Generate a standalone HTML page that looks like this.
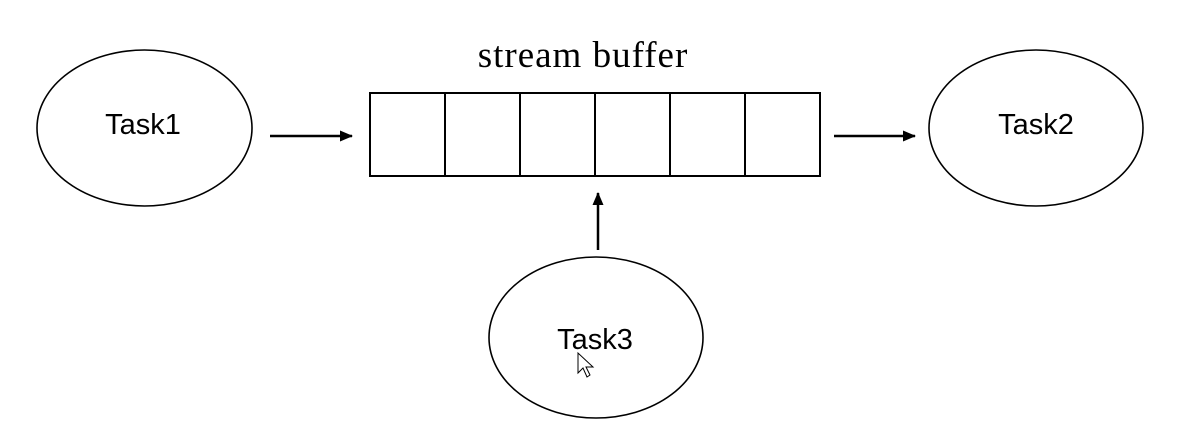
<!DOCTYPE html>
<html><head><style>html,body{margin:0;padding:0;background:#fff}</style></head>
<body>
<svg width="1193" height="421" xmlns="http://www.w3.org/2000/svg">
<defs><marker id="a" markerWidth="13" markerHeight="11" refX="12" refY="5.5" orient="auto" markerUnits="userSpaceOnUse"><path d="M0,0 L13,5.5 L0,11 Z" fill="#000"/></marker></defs>
<g fill="none" stroke="#000" stroke-width="1.6">
<ellipse cx="144.5" cy="128" rx="107.5" ry="78"/>
<ellipse cx="1036" cy="128" rx="107" ry="78"/>
<ellipse cx="596" cy="337.5" rx="107" ry="80.5"/>
<rect x="370" y="93" width="450" height="83" stroke-width="2"/>
<path d="M445,93V176M520,93V176M595,93V176M670,93V176M745,93V176" stroke-width="2"/>
</g>
<g stroke="#000" stroke-width="2.5">
<line x1="270" y1="136" x2="352" y2="136" marker-end="url(#a)"/>
<line x1="834" y1="136" x2="915" y2="136" marker-end="url(#a)"/>
<line x1="598" y1="250" x2="598" y2="193" marker-end="url(#a)"/>
</g>
<g font-family="Liberation Sans, sans-serif" font-size="29" text-anchor="middle" fill="#000">
<text x="143" y="134">Task1</text>
<text x="1036" y="134">Task2</text>
<text x="595" y="349">Task3</text>
</g>
<text x="583" y="67" font-family="Liberation Serif, serif" font-size="37" letter-spacing="1" text-anchor="middle">stream buffer</text>
<path d="M578,353 L578,373 L583,368 L587,377 L590,375 L586,367 L593,367 Z" fill="#fff" stroke="#000" stroke-width="1"/>
</svg>
</body></html>
